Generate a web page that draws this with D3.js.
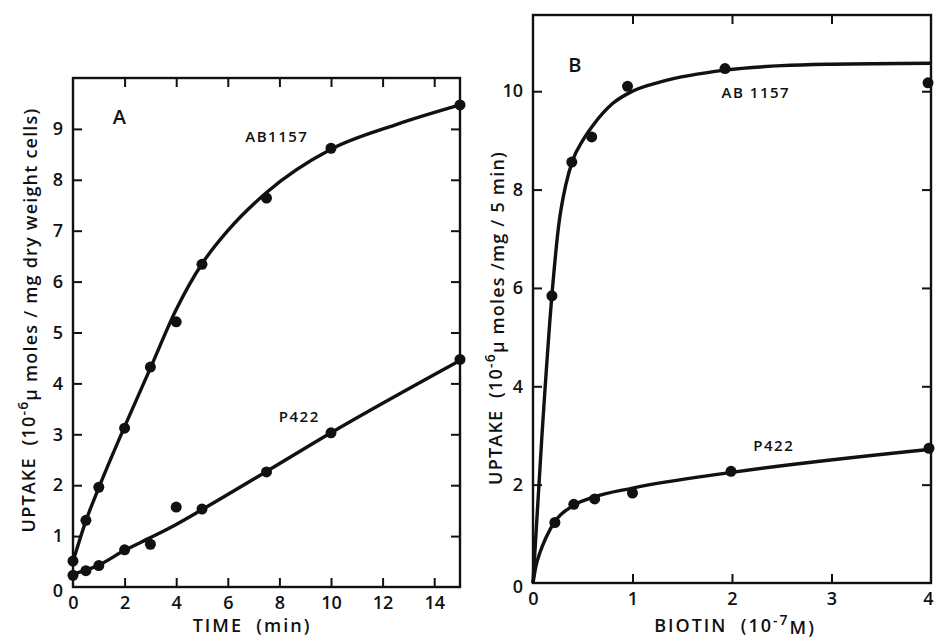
<!DOCTYPE html>
<html>
<head>
<meta charset="utf-8">
<script src="https://cdn.jsdelivr.net/npm/d3@7"></script>
<style>
  body { margin: 0; background: #fff; }
  svg text { font-family: "Open Sans", "DejaVu Sans", sans-serif; font-weight: 600; fill: #111; white-space: pre; }
</style>
</head>
<body>
<svg id="chart" width="937" height="641"></svg>
<script>
// panel A: uptake vs time (min)
var timeA = [0, 0.5, 1, 2, 3, 4, 5, 7.5, 10, 15]
var ab1157A = [0.51, 1.31, 1.96, 3.12, 4.32, 5.21, 6.34, 7.64, 8.62, 9.47]
var timeP = [0, 0.5, 1, 2, 3, 4, 5, 7.5, 10, 15]
var p422A = [0.23, 0.32, 0.42, 0.73, 0.84, 1.57, 1.53, 2.26, 3.03, 4.47]
// fitted curves as drawn
var fitAx1 = [0, 0.5, 1, 2, 3, 4, 5, 6, 7.5, 10, 12.5, 15]
var fitAy1 = [0.5, 1.3, 1.95, 3.15, 4.3, 5.45, 6.35, 7.0, 7.75, 8.6, 9.08, 9.47]
var fitAx2 = [0, 0.5, 1, 2, 3, 4, 5, 7.5, 10, 15]
var fitAy2 = [0.25, 0.33, 0.43, 0.72, 0.97, 1.23, 1.52, 2.27, 3.03, 4.45]

// panel B: uptake vs biotin (10^-7 M)
var biotinAB = [0.19, 0.39, 0.59, 0.95, 1.93, 3.97]
var ab1157B = [5.84, 8.56, 9.07, 10.1, 10.46, 10.17]
var biotinP = [0.22, 0.41, 0.62, 1.0, 1.99, 3.98]
var p422B = [1.23, 1.6, 1.71, 1.83, 2.27, 2.74]
var fitBx1 = [0, 0.09, 0.19, 0.26, 0.33, 0.4, 0.5, 0.6, 0.8, 1.0, 1.3, 1.93, 2.5, 3, 4]
var fitBy1 = [0, 3.0, 5.85, 7.3, 8.1, 8.6, 9.0, 9.3, 9.75, 10.0, 10.2, 10.43, 10.52, 10.55, 10.57]
var fitBx2 = [0, 0.03, 0.07, 0.13, 0.22, 0.4, 0.6, 1.0, 2, 4]
var fitBy2 = [0, 0.35, 0.62, 0.92, 1.25, 1.57, 1.74, 1.93, 2.25, 2.72]

var ticksAx = [0, 2, 4, 6, 8, 10, 12, 14]
var ticksAy = [0, 1, 2, 3, 4, 5, 6, 7, 8, 9]
var ticksBx = [0, 1, 2, 3, 4]
var ticksBy = [0, 2, 4, 6, 8, 10]

var svg = d3.select("#chart")

function zip(xs, ys) { return xs.map(function(x, i) { return [x, ys[i]] }) }

function drawPanel(opt) {
  var x = d3.scaleLinear().domain(opt.xDomain).range(opt.xRange)
  var y = d3.scaleLinear().domain(opt.yDomain).range(opt.yRange)
  var g = svg.append("g")

  // frame
  g.append("rect")
    .attr("x", opt.xRange[0]).attr("y", opt.yRange[1])
    .attr("width", opt.xRange[1] - opt.xRange[0])
    .attr("height", opt.yRange[0] - opt.yRange[1])
    .style("fill", "none").style("stroke", "#111").style("stroke-width", 2.4)

  var tl = 9
  var inner = function(arr) { return arr.filter(function(v) { return v > 0 && v < opt.xDomain[1] }) }
  var innerY = function(arr) { return arr.filter(function(v) { return v > 0 && v < opt.yDomain[1] }) }

  var bottom = g.append("g").attr("transform", "translate(0," + opt.yRange[0] + ")")
    .call(d3.axisBottom(x).tickValues(opt.xTicks).tickSize(-tl).tickPadding(9).tickFormat(d3.format("d")))
  var left = g.append("g").attr("transform", "translate(" + opt.xRange[0] + ",0)")
    .call(d3.axisLeft(y).tickValues(opt.yTicks).tickSize(-tl).tickPadding(opt.yPad).tickFormat(d3.format("d")))
  var top = g.append("g").attr("transform", "translate(0," + opt.yRange[1] + ")")
    .call(d3.axisTop(x).tickValues(inner(opt.xTicks)).tickSize(-tl).tickFormat(""))
  var right = g.append("g").attr("transform", "translate(" + opt.xRange[1] + ",0)")
    .call(d3.axisRight(y).tickValues(innerY(opt.yTicks)).tickSize(-tl).tickFormat(""))

  ;[bottom, left, top, right].forEach(function(a) {
    a.select(".domain").remove()
    a.selectAll("line").style("stroke", "#111").style("stroke-width", 2)
    a.selectAll("text").style("font-size", "18px").style("font-family", "'Open Sans', sans-serif").style("font-weight", 600).attr("fill", "#111")
  })
  // zero ticks on the axes themselves are not drawn
  bottom.selectAll(".tick").filter(function(d) { return d == 0 || d == opt.xDomain[1] }).select("line").remove()
  left.selectAll(".tick").filter(function(d) { return d == 0 }).select("line").remove()
  left.selectAll(".tick").filter(function(d) { return d == 0 }).select("text").attr("dy", "0.55em")
  // last label sits at the page edge; nudge it in a little
  bottom.selectAll(".tick").filter(function(d) { return d == opt.xDomain[1] }).select("text").attr("dx", -3)

  var line = d3.line().x(function(d) { return x(d[0]) }).y(function(d) { return y(d[1]) }).curve(d3.curveMonotoneX)

  opt.curves.forEach(function(c) {
    g.append("path").datum(c)
      .attr("d", line)
      .style("fill", "none").style("stroke", "#111").style("stroke-width", 3.4)
  })
  opt.points.forEach(function(p) {
    g.selectAll(null).data(p).enter().append("circle")
      .attr("cx", function(d) { return x(d[0]) })
      .attr("cy", function(d) { return y(d[1]) })
      .attr("r", 5.5)
      .style("fill", "#111")
  })
  opt.labels.forEach(function(l) {
    g.append("text").text(l.t)
      .attr("x", x(l.x)).attr("y", y(l.y))
      .attr("text-anchor", "middle").attr("dominant-baseline", "middle")
      .style("font-size", l.size + "px")
      .style("letter-spacing", l.ls + "px")
  })
  return { x: x, y: y }
}

drawPanel({
  xDomain: [0, 15], yDomain: [0, 10],
  xRange: [73, 460], yRange: [587, 78],
  xTicks: ticksAx, yTicks: ticksAy, yPad: 10,
  curves: [zip(fitAx1, fitAy1), zip(fitAx2, fitAy2)],
  points: [zip(timeA, ab1157A), zip(timeP, p422A)],
  labels: [
    { t: "A", x: 1.8, y: 9.2, size: 20, ls: 0 },
    { t: "AB1157", x: 7.9, y: 8.82, size: 15, ls: 1.5 },
    { t: "P422", x: 8.77, y: 3.33, size: 15, ls: 1.5 }
  ]
})

drawPanel({
  xDomain: [0, 4], yDomain: [0, 11.55],
  xRange: [533, 931], yRange: [583, 15],
  xTicks: ticksBx, yTicks: ticksBy, yPad: 10,
  curves: [zip(fitBx1, fitBy1), zip(fitBx2, fitBy2)],
  points: [zip(biotinAB, ab1157B), zip(biotinP, p422B)],
  labels: [
    { t: "B", x: 0.42, y: 10.5, size: 20, ls: 0 },
    { t: "AB 1157", x: 2.24, y: 9.95, size: 15, ls: 1.5 },
    { t: "P422", x: 2.42, y: 2.77, size: 15, ls: 1.5 }
  ]
})

// axis titles
function yTitle(cx, cy, pre, sup, post) {
  var t = svg.append("text")
    .attr("transform", "translate(" + cx + "," + cy + ") rotate(-90)")
    .attr("text-anchor", "middle").attr("dominant-baseline", "middle")
    .style("font-size", "18px").style("letter-spacing", "1.2px")
  t.append("tspan").text(pre)
  t.append("tspan").text(sup).attr("dy", "-0.45em").style("font-size", "14px")
  t.append("tspan").text(post).attr("dy", "0.45em")
}
yTitle(30, 320, "UPTAKE  (10", "-6", "µ moles / mg dry weight cells)")
yTitle(497, 318, "UPTAKE  (10", "-6", "µ moles /mg / 5 min)")

svg.append("text").text("TIME  (min)")
  .attr("x", 252).attr("y", 627).attr("text-anchor", "middle").attr("dominant-baseline", "middle")
  .style("font-size", "18px").style("letter-spacing", "2px")

var bt = svg.append("text")
  .attr("x", 735).attr("y", 627).attr("text-anchor", "middle").attr("dominant-baseline", "middle")
  .style("font-size", "18px").style("letter-spacing", "2px")
bt.append("tspan").text("BIOTIN  (10")
bt.append("tspan").text("-7").attr("dy", "-0.45em").style("font-size", "14px")
bt.append("tspan").text("M)").attr("dy", "0.45em")
</script>
</body>
</html>
